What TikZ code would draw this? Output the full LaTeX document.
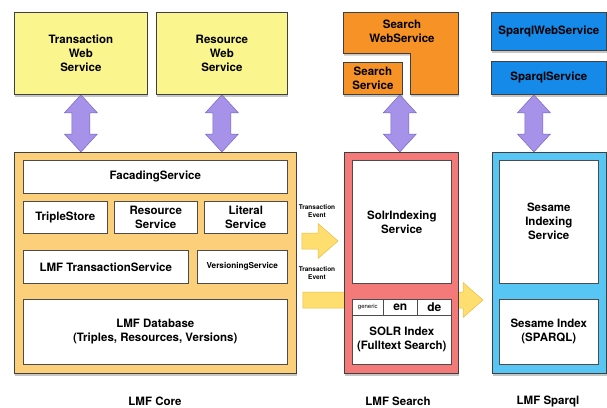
\documentclass[tikz,border=0pt]{standalone}
\usepackage{fontspec}
\setmainfont{TeX Gyre Heros}
\usetikzlibrary{calc}
\usetikzlibrary{shadows}
\usetikzlibrary{backgrounds}
\definecolor{webyellow}{RGB}{250,245,140}
\definecolor{searchorange}{RGB}{247,146,38}
\definecolor{sparqlblue}{RGB}{22,138,232}
\definecolor{corefill}{RGB}{252,208,122}
\definecolor{searchfill}{RGB}{244,122,122}
\definecolor{sparqlfill}{RGB}{88,198,244}
\definecolor{lilac}{RGB}{166,146,232}
\definecolor{lilacline}{RGB}{120,100,200}
\definecolor{evtfill}{RGB}{253,222,110}
\definecolor{evtline}{RGB}{232,190,70}
\tikzset{txt/.style = {font=\fontsize{11.5}{14}\selectfont\bfseries, align=center}}
\tikzset{box/.style = {txt, draw=black!75, line width=0.8pt, inner sep=0, anchor=north west,
                       drop shadow={shadow xshift=1pt, shadow yshift=-2.5pt, opacity=.45}}}
\tikzset{inbox/.style = {txt, draw=black!70, fill=white, line width=0.6pt, inner sep=0, anchor=north west}}
\tikzset{small/.style = {font=\fontsize{6.5}{8.5}\selectfont\bfseries, align=center}}
\tikzset{updown/.style = {fill=lilac, draw=lilacline, line width=0.5pt,
                          to path={let \p1=(\tikztostart), \p2=(\tikztotarget) in
                                   (\x1,\y1) -- (\x1+16.5pt,\y1-18pt) -- (\x1+9pt,\y1-18pt)
                                   -- (\x1+9pt,\y2+18pt) -- (\x1+16.5pt,\y2+18pt) -- (\x1,\y2)
                                   -- (\x1-16.5pt,\y2+18pt) -- (\x1-9pt,\y2+18pt)
                                   -- (\x1-9pt,\y1-18pt) -- (\x1-16.5pt,\y1-18pt) -- cycle}}}
\tikzset{evt/.style = {fill=evtfill, draw=evtline, line width=0.5pt,
                       to path={let \p1=(\tikztostart), \p2=(\tikztotarget) in
                                (\x1,\y1+8pt) -- (\x2-20pt,\y1+8pt) -- (\x2-20pt,\y1+17.5pt)
                                -- (\x2,\y1) -- (\x2-20pt,\y1-17.5pt) -- (\x2-20pt,\y1-8pt)
                                -- (\x1,\y1-8pt) -- cycle}}}

\begin{document}
\begin{tikzpicture}[x=1pt, y=-1pt]
    \useasboundingbox (0,0) rectangle (607,407);

    \node [box, fill=webyellow, minimum width=133, minimum height=82] (tws) at (14,12) {Transaction\\Web\\Service};
    \node [box, fill=webyellow, minimum width=131, minimum height=82] (rws) at (156,12) {Resource\\Web\\Service};

    \draw [box, fill=searchorange] (343,12) -- (458,12) -- (458,94) -- (410,94) -- (410,53) -- (343,53) -- cycle;
    \node [txt] (sws) at (402,31) {Search\\WebService};
    \node [box, fill=searchorange, minimum width=59, minimum height=32] (ss) at (343,62) {Search\\Service};

    \node [box, fill=sparqlblue, minimum width=115, minimum height=38] (spws) at (491,12) {SparqlWebService};
    \node [box, fill=sparqlblue, minimum width=115, minimum height=33] (sps) at (491,61) {SparqlService};

    \node [box, fill=corefill, minimum width=282, minimum height=221] (core) at (14,152) {};
    \node [inbox, minimum width=264, minimum height=33] (facade) at (23,160) {FacadingService};
    \node [inbox, minimum width=84, minimum height=32] (triple) at (23,201) {TripleStore};
    \node [inbox, minimum width=83, minimum height=32] (ressvc) at (114,201) {Resource\\Service};
    \node [inbox, minimum width=83, minimum height=32] (litsvc) at (204,201) {Literal\\Service};
    \node [inbox, minimum width=165, minimum height=33] (txsvc) at (23,250) {LMF TransactionService};
    \node [inbox, minimum width=90, minimum height=33, font=\fontsize{8.2}{10}\selectfont\bfseries] (versvc) at (197,250) {VersioningService};
    \node [inbox, minimum width=264, minimum height=65] (db) at (23,299) {LMF Database\\(Triples, Resources, Versions)};

    \node [box, fill=searchfill, minimum width=114, minimum height=221] (search) at (344,152) {};
    \node [inbox, minimum width=99, minimum height=123] (solrsvc) at (352,160) {SolrIndexing\\Service};
    \node [inbox, minimum width=31, minimum height=16, font=\fontsize{6}{7}\selectfont] (generic) at (352,299) {generic};
    \node [inbox, minimum width=34, minimum height=16, font=\fontsize{12}{14}\selectfont\bfseries] (en) at (383,299) {en};
    \node [inbox, minimum width=34, minimum height=16, font=\fontsize{12}{14}\selectfont\bfseries] (de) at (417,299) {de};
    \node [inbox, minimum width=99, minimum height=49] (solr) at (352,315) {SOLR Index\\(Fulltext Search)};

    \node [box, fill=sparqlfill, minimum width=114, minimum height=221] (sparql) at (492,152) {};
    \node [inbox, minimum width=99, minimum height=123] (sesamesvc) at (499,160) {Sesame\\Indexing\\Service};
    \node [inbox, minimum width=99, minimum height=65] (sesame) at (499,299) {Sesame Index\\(SPARQL)};

    \node [small] (ev1) at (317,211) {Transaction\\Event};
    \node [small] (ev2) at (317,273) {Transaction\\Event};

    \node [txt] (corelbl) at (155,401) {LMF Core};
    \node [txt] (searchlbl) at (398,401) {LMF Search};
    \node [txt] (sparqllbl) at (548,401) {LMF Sparql};

    \begin{scope}[on background layer]
        \draw [updown] (tws.south) to (core.north);
        \draw [updown] (rws.south) to (core.north);
        \draw [updown] ($(ss.south east)+(-3,0)$) to (search.north);
        \draw [updown] ($(sps.south)+(-15,0)$) to (sparql.north);
        \draw [evt] ($(core.east |- 0,241)+(5,0)$) to ($(search.west |- 0,241)+(-6,0)$);
        \draw [evt] ($(core.east |- 0,300)+(6,0)$) to ($(sparql.west |- 0,300)+(-9,0)$);
    \end{scope}
\end{tikzpicture}
\end{document}
